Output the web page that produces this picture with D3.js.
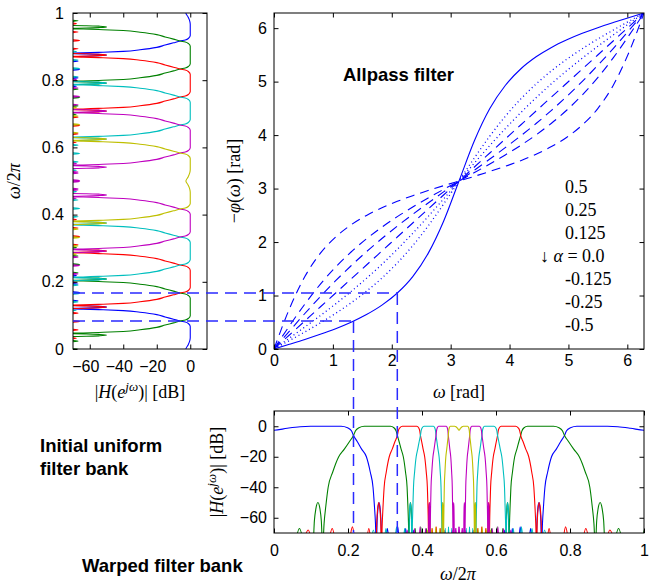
<!DOCTYPE html>
<html>
<head>
<meta charset="utf-8">
<script src="https://cdnjs.cloudflare.com/ajax/libs/d3/7.8.5/d3.min.js"></script>
<style>
  body { margin: 0; background: #fff; }
  svg { display: block; }
  .tick text { font-family: 'Liberation Sans', Arial, sans-serif; font-size: 16px; fill: #000; }
  .tick line { stroke: #000; stroke-width: 1; }
  .serif { font-family: 'Liberation Serif', 'Times New Roman', serif; font-size: 18px; fill: #000; }
  .title { font-family: 'Liberation Sans', Arial, sans-serif; font-weight: bold; font-size: 18.5px; fill: #000; }
</style>
</head>
<body>
<svg id="chart" width="654" height="585"></svg>
<script>
var TWO_PI = 2 * Math.PI

// allpass phase plot: frequency grid (rad) and -phi(w) for each alpha
var omega = [0, 0.262, 0.524, 0.785, 1.047, 1.309, 1.571, 1.833, 2.094, 2.356, 2.618, 2.880, 3.142,
             3.403, 3.665, 3.927, 4.189, 4.451, 4.712, 4.974, 5.236, 5.498, 5.760, 6.021, 6.283]
var alphaLabels = ['0.5', '0.25', '0.125', '0.0', '-0.125', '-0.25', '-0.5']
var phaseP050 = [0, 0.088, 0.178, 0.274, 0.380, 0.501, 0.644, 0.820, 1.047, 1.355, 1.788, 2.389, 3.142,
                 3.894, 4.496, 4.928, 5.236, 5.464, 5.640, 5.782, 5.903, 6.009, 6.105, 6.196, 6.283]
var phaseP025 = [0, 0.158, 0.319, 0.487, 0.667, 0.863, 1.081, 1.327, 1.609, 1.933, 2.302, 2.710, 3.142,
                 3.573, 3.981, 4.350, 4.674, 4.956, 5.202, 5.420, 5.616, 5.796, 5.964, 6.125, 6.283]
var phaseP0125 = [0, 0.204, 0.411, 0.623, 0.844, 1.076, 1.322, 1.584, 1.865, 2.163, 2.478, 2.806, 3.142,
                  3.477, 3.805, 4.120, 4.418, 4.699, 4.961, 5.207, 5.439, 5.660, 5.872, 6.079, 6.283]
var phaseZero = [0, 0.262, 0.524, 0.785, 1.047, 1.309, 1.571, 1.833, 2.094, 2.356, 2.618, 2.880, 3.142,
                 3.403, 3.665, 3.927, 4.189, 4.451, 4.712, 4.974, 5.236, 5.498, 5.760, 6.021, 6.283]
var phaseM0125 = [0, 0.335, 0.664, 0.979, 1.277, 1.557, 1.820, 2.066, 2.298, 2.518, 2.731, 2.938, 3.142,
                  3.345, 3.552, 3.765, 3.985, 4.217, 4.463, 4.726, 5.006, 5.304, 5.619, 5.948, 6.283]
var phaseM025 = [0, 0.432, 0.840, 1.209, 1.532, 1.814, 2.061, 2.279, 2.475, 2.654, 2.823, 2.984, 3.142,
                 3.299, 3.460, 3.629, 3.808, 4.004, 4.222, 4.469, 4.751, 5.074, 5.443, 5.851, 6.283]
var phaseM050 = [0, 0.752, 1.354, 1.787, 2.094, 2.322, 2.498, 2.640, 2.761, 2.867, 2.963, 3.054, 3.142,
                 3.229, 3.320, 3.416, 3.522, 3.643, 3.785, 3.961, 4.189, 4.496, 4.929, 5.531, 6.283]
var phaseCurves = [phaseP050, phaseP025, phaseP0125, phaseZero, phaseM0125, phaseM025, phaseM050]
var phaseDash = [null, '1,3', '1,3', '9,6', '9,6', '9,6', '9,6']

// dashed guides: band edge of the uniform bank and where it lands on the alpha=0.5 curve
var guidePhase = [0.524, 1.047]
var guideOmega = [1.35, 2.094]

// uniform filter bank, omega/2pi: passbands of each channel
var filterColors = ['#0000ff', '#008000', '#ff0000', '#00bfbf', '#bf00bf', '#bfbf00']
var filterBands = [
  [[-0.0833, 0.0833], [0.9167, 1.0833]],
  [[0.0833, 0.1667], [0.8333, 0.9167]],
  [[0.1667, 0.25], [0.75, 0.8333]],
  [[0.25, 0.3333], [0.6667, 0.75]],
  [[0.3333, 0.4167], [0.5833, 0.6667]],
  [[0.4167, 0.5833]]
]
// one channel edge: distance outside the band edge -> dB
var edgeOffset = [-0.016, -0.008, -0.003, 0, 0.0055, 0.012, 0.019, 0.026, 0.031, 0.0335, 0.0355, 0.037]
var edgeDb = [0, -1, -3, -6, -10, -15, -20, -30, -40, -52, -64, -80]
var sideOffset = [0.0385, 0.040, 0.042, 0.044, 0.0455, 0.047]
var sideDb = [-62, -54, -50, -54, -62, -80]
var rippleOffset = [0.054, 0.06, 0.066, 0.079, 0.085, 0.091, 0.104, 0.11, 0.116, 0.129, 0.135, 0.141]
var rippleDb = [-80, -67, -80, -80, -66, -80, -80, -67, -80, -80, -68, -80]
// sag in the middle of the lowpass / highpass channel
var sagOffset = [-0.034, -0.024, -0.012, 0, 0.012, 0.024, 0.034]
var sagDb = [0, -0.3, -1.3, -2.6, -1.3, -0.3, 0]

var phaseTicks = [0, 1, 2, 3, 4, 5, 6]
var dbTicks = [-60, -40, -20, 0]
var normTicks = [0, 0.2, 0.4, 0.6, 0.8, 1]

var svg = d3.select('#chart')

var xT = d3.scaleLinear().domain([0, TWO_PI]).range([274, 644])
var yT = d3.scaleLinear().domain([0, TWO_PI]).range([349, 13])
var xL = d3.scaleLinear().domain([-70, 10]).range([73, 207])
var yL = d3.scaleLinear().domain([0, 1]).range([349, 13])
var xB = d3.scaleLinear().domain([0, 1]).range([274, 644])
var yB = d3.scaleLinear().domain([-70, 10]).range([533, 411])

// frequency warping read from the alpha = 0.5 curve: uniform omega/2pi -> warped omega/2pi
var warp = d3.scaleLinear()
  .domain(phaseP050.map(function(p){ return p / TWO_PI }))
  .range(omega.map(function(w){ return w / TWO_PI }))

function plainFmt(d){ return d < 0 ? '\u2212' + Math.abs(d) : String(d) }
function blank(){ return '' }

function addClip(id, x, y){
  var xr = x.range(), yr = y.range()
  svg.append('clipPath').attr('id', id).append('rect')
    .attr('x', Math.min(xr[0], xr[1])).attr('y', Math.min(yr[0], yr[1]))
    .attr('width', Math.abs(xr[1] - xr[0])).attr('height', Math.abs(yr[1] - yr[0]))
}

function drawAxes(x, y, xTicks, yTicks, xPad, yPad){
  var xr = x.range(), yr = y.range()
  var g = svg.append('g')
  var bottom = g.append('g').attr('transform', 'translate(0,' + yr[0] + ')')
    .call(d3.axisBottom(x).tickValues(xTicks).tickFormat(plainFmt).tickSizeInner(-4.5).tickSizeOuter(0).tickPadding(xPad))
  g.append('g').attr('transform', 'translate(0,' + yr[1] + ')')
    .call(d3.axisTop(x).tickValues(xTicks).tickFormat(blank).tickSizeInner(-4.5).tickSizeOuter(0))
  g.append('g').attr('transform', 'translate(' + xr[0] + ',0)')
    .call(d3.axisLeft(y).tickValues(yTicks).tickFormat(plainFmt).tickSizeInner(-4.5).tickSizeOuter(0).tickPadding(yPad))
  g.append('g').attr('transform', 'translate(' + xr[1] + ',0)')
    .call(d3.axisRight(y).tickValues(yTicks).tickFormat(blank).tickSizeInner(-4.5).tickSizeOuter(0))
  g.selectAll('.domain').remove()
  g.append('rect')
    .attr('x', xr[0]).attr('y', yr[1])
    .attr('width', xr[1] - xr[0]).attr('height', yr[0] - yr[1])
    .attr('fill', 'none').attr('stroke', '#000').attr('stroke-width', 1)
  return bottom
}

var outerOffset = edgeOffset.concat(sideOffset, rippleOffset)
var outerDb = edgeDb.concat(sideDb, rippleDb)

function lobePoints(band){
  var lo = band[0], hi = band[1], pts = [], i
  for (i = outerOffset.length - 1; i >= 0; i--) pts.push([lo - outerOffset[i], outerDb[i]])
  if (hi - lo > 0.1) {
    var mid = (lo + hi) / 2
    for (i = 0; i < sagOffset.length; i++) pts.push([mid + sagOffset[i], sagDb[i]])
  }
  for (i = 0; i < outerOffset.length; i++) pts.push([hi + outerOffset[i], outerDb[i]])
  return pts
}

addClip('clipT', xT, yT)
addClip('clipL', xL, yL)
addClip('clipB', xB, yB)

// ---- left panel: initial uniform filter bank (rotated)
var leftLine = d3.line()
  .x(function(d){ return xL(d[1]) })
  .y(function(d){ return yL(d[0]) })
  .curve(d3.curveMonotoneY)

var gLeft = svg.append('g').attr('clip-path', 'url(#clipL)')
filterBands.forEach(function(bands, k){
  bands.forEach(function(band){
    gLeft.append('path').attr('d', leftLine(lobePoints(band)))
      .attr('fill', 'none').attr('stroke', filterColors[k]).attr('stroke-width', 1.1)
  })
})
var leftBottom = drawAxes(xL, yL, dbTicks, normTicks, 12, 9)
// matlab lets the minus sign hang to the left of the tick
leftBottom.selectAll('.tick text').filter(function(d){ return d < 0 }).attr('dx', '-0.28em')

// ---- bottom panel: warped filter bank
var bottomLine = d3.line()
  .x(function(d){ return xB(warp(d[0])) })
  .y(function(d){ return yB(d[1]) })
  .curve(d3.curveMonotoneX)

var gBottom = svg.append('g').attr('clip-path', 'url(#clipB)')
filterBands.forEach(function(bands, k){
  bands.forEach(function(band){
    gBottom.append('path').attr('d', bottomLine(lobePoints(band)))
      .attr('fill', 'none').attr('stroke', filterColors[k]).attr('stroke-width', 1.1)
  })
})
drawAxes(xB, yB, normTicks, dbTicks, 12, 7)

// ---- top panel: allpass phase
var phaseLine = d3.line()
  .x(function(d, i){ return xT(omega[i]) })
  .y(function(d){ return yT(d) })
  .curve(d3.curveMonotoneX)

var gTop = svg.append('g').attr('clip-path', 'url(#clipT)')
phaseCurves.forEach(function(curve, i){
  gTop.append('path').attr('d', phaseLine(curve))
    .attr('fill', 'none').attr('stroke', '#0000ff')
    .attr('stroke-width', phaseDash[i] === '1,3' ? 1.3 : 1.1)
    .attr('stroke-dasharray', phaseDash[i])
})
drawAxes(xT, yT, phaseTicks, phaseTicks, 6, 7)

// ---- guide lines linking the three panels
var gGuide = svg.append('g')
guidePhase.forEach(function(p, i){
  gGuide.append('line')
    .attr('x1', xL(-70)).attr('x2', xT(guideOmega[i]))
    .attr('y1', yT(p)).attr('y2', yT(p))
    .attr('stroke', '#2a2aff').attr('stroke-width', 1.5).attr('stroke-dasharray', '12,7')
  gGuide.append('line')
    .attr('x1', xT(guideOmega[i])).attr('x2', xT(guideOmega[i]))
    .attr('y1', yT(p)).attr('y2', yB(-70))
    .attr('stroke', '#2a2aff').attr('stroke-width', 1.5).attr('stroke-dasharray', '12,7')
})

// ---- texts
svg.append('text').attr('class', 'title').attr('x', 343).attr('y', 81).text('Allpass filter')
svg.append('text').attr('class', 'title').attr('x', 40).attr('y', 452).text('Initial uniform')
svg.append('text').attr('class', 'title').attr('x', 40).attr('y', 475).text('filter bank')
svg.append('text').attr('class', 'title').attr('x', 82).attr('y', 572).text('Warped filter bank')

alphaLabels.forEach(function(a, i){
  var t = svg.append('text').attr('class', 'serif').attr('y', 193 + i * 23)
  if (a === '0.0') {
    t.attr('x', 540)
    t.append('tspan').text('\u2193 ')
    t.append('tspan').attr('font-style', 'italic').text('\u03b1')
    t.append('tspan').text(' = 0.0')
  } else {
    t.attr('x', 565).text(a)
  }
})

function omegaOver2Pi(t){
  t.append('tspan').attr('font-style', 'italic').text('\u03c9')
  t.append('tspan').text('/2')
  t.append('tspan').attr('font-style', 'italic').text('\u03c0')
}
function magDb(t){
  t.append('tspan').text('|')
  t.append('tspan').attr('font-style', 'italic').text('H')
  t.append('tspan').text('(')
  t.append('tspan').attr('font-style', 'italic').text('e')
  t.append('tspan').attr('font-style', 'italic').attr('font-size', '13px').attr('dy', '-7').text('j\u03c9')
  t.append('tspan').attr('dy', '7').text(')| [dB]')
}

var tx = svg.append('text').attr('class', 'serif').attr('text-anchor', 'middle').attr('x', 459).attr('y', 398)
tx.append('tspan').attr('font-style', 'italic').text('\u03c9')
tx.append('tspan').text(' [rad]')

var ty = svg.append('text').attr('class', 'serif').attr('text-anchor', 'middle')
  .attr('transform', 'translate(240,181) rotate(-90)')
ty.append('tspan').text('\u2212')
ty.append('tspan').attr('font-style', 'italic').text('\u03c6')
ty.append('tspan').text('(')
ty.append('tspan').attr('font-style', 'italic').text('\u03c9')
ty.append('tspan').text(') [rad]')

omegaOver2Pi(svg.append('text').attr('class', 'serif').attr('text-anchor', 'middle')
  .attr('transform', 'translate(20,181) rotate(-90)'))
magDb(svg.append('text').attr('class', 'serif').attr('text-anchor', 'middle').attr('x', 140).attr('y', 398))
magDb(svg.append('text').attr('class', 'serif').attr('text-anchor', 'middle')
  .attr('transform', 'translate(223,472) rotate(-90)'))
omegaOver2Pi(svg.append('text').attr('class', 'serif').attr('text-anchor', 'middle').attr('x', 458).attr('y', 580))
</script>
</body>
</html>
